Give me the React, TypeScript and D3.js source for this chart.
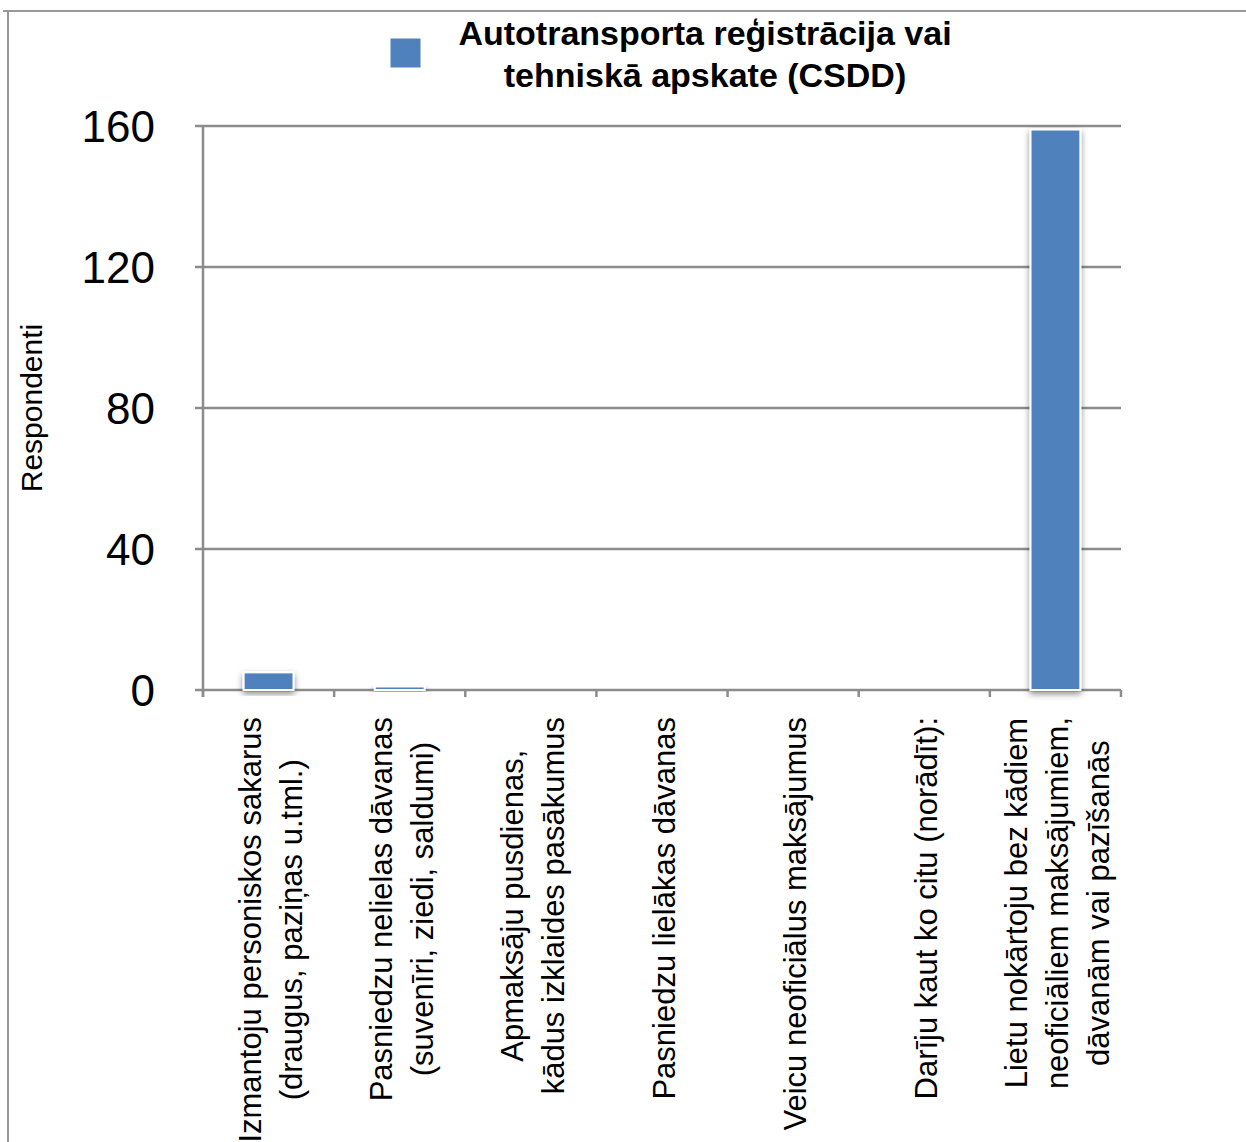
import React from "react";
import * as d3 from "d3";

const categories: string[][] = [
  ["Izmantoju personiskos sakarus", "(draugus, paziņas u.tml.)"],
  ["Pasniedzu nelielas dāvanas", "(suvenīri, ziedi, saldumi)"],
  ["Apmaksāju pusdienas,", "kādus izklaides pasākumus"],
  ["Pasniedzu lielākas dāvanas"],
  ["Veicu neoficiālus maksājumus"],
  ["Darīju kaut ko citu (norādīt):"],
  ["Lietu nokārtoju bez kādiem", "neoficiāliem maksājumiem,", "dāvanām vai pazīšanās"],
];
const values: number[] = [5, 1, 0, 0, 0, 0, 159];
const yTicks: number[] = [0, 40, 80, 120, 160];
const seriesName: string[] = ["Autotransporta reģistrācija vai", "tehniskā apskate (CSDD)"];
const yTitle = "Respondenti";

const W = 1246;
const H = 1142;
const left = 203;
const right = 1121;
const top = 126;
const bottom = 690;
const font = "'Liberation Sans', Arial, Helvetica, sans-serif";

function measure(s: string, fs: number): number {
  try {
    const c = document.createElement("canvas");
    const ctx = c.getContext("2d");
    if (ctx) {
      ctx.font = `${fs}px 'Liberation Sans', Arial, sans-serif`;
      return ctx.measureText(s).width;
    }
  } catch (e) {}
  return s.length * fs * 0.5;
}

export default function App() {
  const idx = categories.map((_, i) => String(i));
  const x = d3.scaleBand<string>().domain(idx).range([left, right]).paddingInner(0).paddingOuter(0);
  const y = d3.scaleLinear().domain([0, 160]).range([bottom, top]);
  const barW = x.bandwidth() * 0.38;
  const lineH = 41;
  const labelFs = 31;
  const labelTop = 717;

  return (
    <svg width={W} height={H} style={{ position: "absolute", left: 0, top: 0, background: "#fff" }}>
      <defs>
        <filter id="shadow" x="-30%" y="-30%" width="160%" height="160%">
          <feDropShadow dx="0" dy="3" stdDeviation="3" floodColor="#000" floodOpacity="0.45" />
        </filter>
      </defs>
      <rect x={0} y={0} width={W} height={H} fill="#fff" />
      {/* outer border */}
      <line x1={3} x2={W} y1={11} y2={11} stroke="#999" strokeWidth={2} />
      <line x1={8} x2={8} y1={11} y2={H} stroke="#999" strokeWidth={2} />

      {/* legend */}
      <rect x={390} y={38} width={31} height={30} fill="#4F81BD" stroke="#fff" strokeWidth={1} />
      {seriesName.map((s, i) => (
        <text key={i} x={705} y={36 + i * 42} textAnchor="middle" dominantBaseline="middle"
          fontFamily={font} fontWeight="bold" fontSize={34} fill="#000">{s}</text>
      ))}

      {/* gridlines and y ticks */}
      {yTicks.map((t) => (
        <g key={t}>
          <line x1={195} x2={right} y1={y(t)} y2={y(t)} stroke="#8c8c8c" strokeWidth={2.5} />
          <text x={155} y={y(t)} textAnchor="end" dominantBaseline="central" fontFamily={font}
            fontSize={44} fill="#000">{t}</text>
        </g>
      ))}
      {/* y axis */}
      <line x1={left} x2={left} y1={top} y2={bottom + 7} stroke="#8c8c8c" strokeWidth={2.5} />
      {/* x ticks */}
      {idx.concat(["end"]).map((k, i) => {
        const xx = i < idx.length ? (x(k) as number) : right;
        return <line key={k} x1={xx} x2={xx} y1={bottom} y2={bottom + 7} stroke="#8c8c8c" strokeWidth={2.5} />;
      })}

      {/* bars */}
      {values.map((v, i) => {
        if (v <= 0) return null;
        const cx = (x(String(i)) as number) + x.bandwidth() / 2;
        return (
          <rect key={i} x={cx - barW / 2} y={y(v)} width={barW} height={y(0) - y(v)}
            fill="#4F81BD" stroke="#fff" strokeWidth={2} filter="url(#shadow)" />
        );
      })}

      {/* y title */}
      <text transform={`translate(42,408) rotate(-90)`} textAnchor="middle" fontFamily={font}
        fontSize={30} fill="#000">{yTitle}</text>

      {/* x labels */}
      {categories.map((lines, i) => {
        const cx = (x(String(i)) as number) + x.bandwidth() / 2 + 2;
        const n = lines.length;
        const maxLen = d3.max(lines, (s) => measure(s, labelFs)) as number;
        const blockCenter = labelTop + maxLen / 2;
        return (
          <g key={i}>
            {lines.map((ln, j) => {
              const lx = cx + (j - (n - 1) / 2) * lineH;
              return (
                <text key={j} transform={`translate(${lx},${blockCenter}) rotate(-90)`}
                  textAnchor="middle" dominantBaseline="central" fontFamily={font}
                  fontSize={labelFs} fill="#000">{ln}</text>
              );
            })}
          </g>
        );
      })}
    </svg>
  );
}
